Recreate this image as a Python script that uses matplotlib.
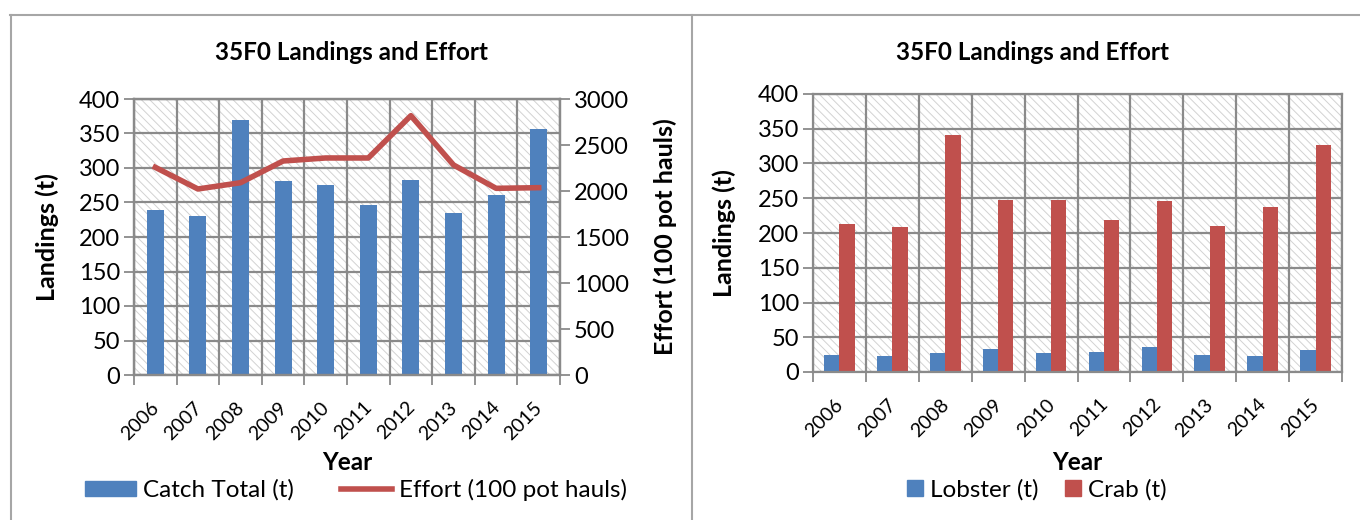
import numpy as np
import matplotlib
matplotlib.use("Agg")
import matplotlib.pyplot as plt
import matplotlib.transforms as mtransforms
from matplotlib.patches import Rectangle, Patch
from matplotlib.lines import Line2D

plt.rcParams['font.family'] = ['Lato', 'DejaVu Sans']
plt.rcParams['hatch.linewidth'] = 0.7

# Data
years = [2006, 2007, 2008, 2009, 2010, 2011, 2012, 2013, 2014, 2015]
catch_total = [239, 231, 369, 281, 275, 247, 282, 235, 261, 356]
effort = [2257, 2022, 2090, 2326, 2359, 2359, 2819, 2283, 2029, 2036]
lobster = [25, 22.5, 28, 33, 28, 29, 35.5, 24.5, 23, 31]
crab = [213, 208, 341, 248, 248, 219, 246, 210, 238, 326]

BLUE = '#4F81BD'
RED = '#C0504D'
GRID = '#8a8a8a'
HATCH = '#d2d2d2'
FRAME = '#a6a6a6'

W, H = 1360, 520
fig = plt.figure(figsize=(W / 100, H / 100), dpi=100)
x = np.arange(len(years))


def px_axes(left, top, right, bottom):
    return fig.add_axes([left / W, 1 - bottom / H, (right - left) / W, (bottom - top) / H])


def style_axes(ax, ymax, step):
    bg = Rectangle((0, 0), 1, 1, transform=ax.transAxes, facecolor='white',
                   edgecolor=HATCH, hatch='\\\\\\\\', lw=0, zorder=0)
    ax.add_patch(bg)
    ax.set_xlim(-0.5, len(years) - 0.5)
    ax.set_ylim(0, ymax)
    ax.set_yticks(np.arange(0, ymax + 1, step))
    ax.set_xticks(x)
    ax.set_xticklabels([str(y) for y in years], rotation=45, ha='right', va='top')
    ax.set_xticks(np.arange(-0.5, len(years), 1), minor=True)
    ax.tick_params(axis='x', which='major', length=0, pad=17, labelsize=14)
    ax.tick_params(axis='x', which='minor', length=7, width=1.3, color=GRID)
    ax.tick_params(axis='y', length=7, width=1.3, color=GRID, labelsize=17, pad=3)
    ax.grid(axis='x', which='minor', color=GRID, lw=1.6)
    ax.grid(axis='y', which='major', color=GRID, lw=1.6)
    ax.set_axisbelow(True)
    for s in ax.spines.values():
        s.set_color(GRID)
        s.set_linewidth(1.6)
    shift = mtransforms.ScaledTranslation(7 / 100, 0, fig.dpi_scale_trans)
    for lab in ax.get_xticklabels():
        lab.set_transform(lab.get_transform() + shift)


# Left chart: catch total bars with effort line on a second axis
ax1 = px_axes(134, 99, 560, 375)
style_axes(ax1, 400, 50)
ax1.bar(x, catch_total, width=0.4, color=BLUE, zorder=2)

ax1b = ax1.twinx()
ax1b.set_ylim(0, 3000)
ax1b.set_yticks(np.arange(0, 3001, 500))
ax1b.tick_params(axis='y', length=7, width=1.3, color=GRID, labelsize=17, pad=3)
for s in ax1b.spines.values():
    s.set_color(GRID)
    s.set_linewidth(1.6)
ax1b.plot(x, effort, color=RED, lw=4, solid_joinstyle='round', zorder=3)

# Right chart: lobster and crab side by side
ax2 = px_axes(813, 94, 1342, 372)
style_axes(ax2, 400, 50)
bw = 0.29
ax2.bar(x - bw / 2, lobster, width=bw, color=BLUE, zorder=2)
ax2.bar(x + bw / 2, crab, width=bw, color=RED, zorder=2)

# Titles and axis labels
title = '35F0 Landings and Effort'
fig.text(351 / W, 1 - 53 / H, title, ha='center', va='center', fontsize=17.5, fontweight='bold')
fig.text(1032 / W, 1 - 53 / H, title, ha='center', va='center', fontsize=17.5, fontweight='bold')

fig.text(47 / W, 1 - 237 / H, 'Landings (t)', rotation=90, ha='center', va='center',
         fontsize=18, fontweight='bold')
fig.text(665 / W, 1 - 237 / H, 'Effort (100 pot hauls)', rotation=90, ha='center', va='center',
         fontsize=18, fontweight='bold')
fig.text(724 / W, 1 - 233 / H, 'Landings (t)', rotation=90, ha='center', va='center',
         fontsize=18, fontweight='bold')

fig.text(347 / W, 1 - 463 / H, 'Year', ha='center', va='center', fontsize=17.5, fontweight='bold')
fig.text(1077 / W, 1 - 462 / H, 'Year', ha='center', va='center', fontsize=17.5, fontweight='bold')

# Legends
fig.legend(handles=[Patch(color=BLUE), Line2D([], [], color=RED, lw=4)],
           labels=['Catch Total (t)', 'Effort (100 pot hauls)'],
           loc='center', bbox_to_anchor=(356 / W, 1 - 490 / H), ncol=2, frameon=False,
           fontsize=17.5, handlelength=2.1, handleheight=0.6, handletextpad=0.3,
           columnspacing=1.9, borderpad=0)
fig.legend(handles=[Patch(color=BLUE), Patch(color=RED)],
           labels=['Lobster (t)', 'Crab (t)'],
           loc='center', bbox_to_anchor=(1037 / W, 1 - 490 / H), ncol=2, frameon=False,
           fontsize=17.5, handlelength=0.65, handleheight=0.65, handletextpad=0.3,
           columnspacing=1.1, borderpad=0)

# Panel frames
top = 1 - 15 / H
fig.add_artist(Line2D([10 / W, 1], [top, top], color=FRAME, lw=1.5))
fig.add_artist(Line2D([11 / W, 11 / W], [0, top], color=FRAME, lw=1.5))
fig.add_artist(Line2D([692 / W, 692 / W], [0, top], color=FRAME, lw=1.5))

fig.savefig('out.png', dpi=100)
